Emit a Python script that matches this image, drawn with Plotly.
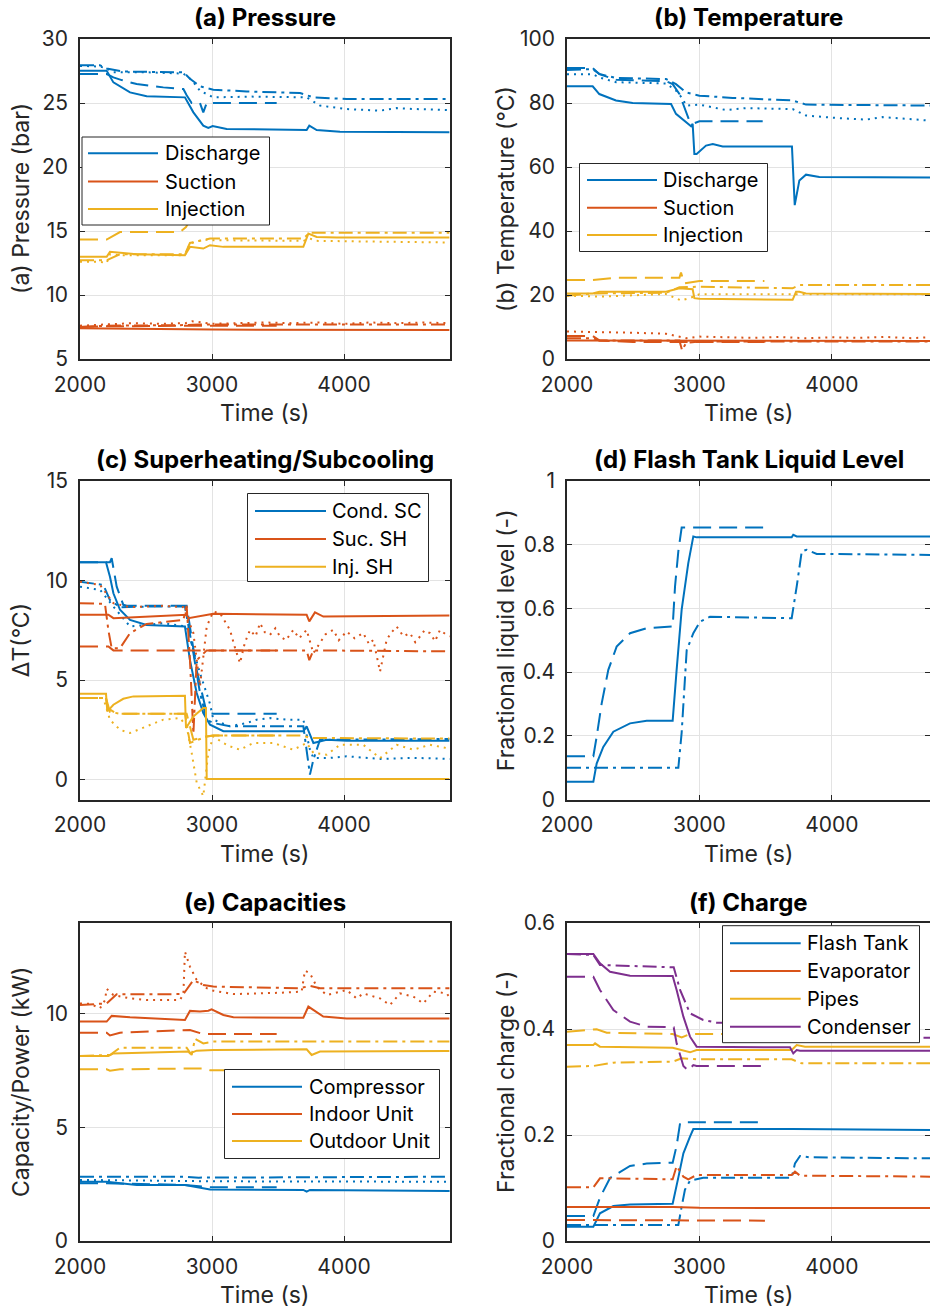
import plotly.graph_objects as go

# ---------------- colours / styles ----------------
BLUE = "#0072BD"; RED = "#D95319"; YEL = "#EDB120"; PUR = "#7E2F8E"
DASH = {"solid": "solid", "dash": "18px,8px", "dot": "2px,5px", "dd": "14px,5px,3px,5px"}

# ---------------- (a) Pressure (bar) ----------------
a_dis_solid = ([2000, 2202, 2253, 2379, 2505, 2795, 2859, 2934, 2972, 3005, 3111, 3515, 3717, 3737, 3793, 3970, 4800],
               [27.52, 27.52, 26.61, 25.83, 25.52, 25.44, 24.27, 23.23, 23.05, 23.2, 22.97, 22.89, 22.89, 23.23, 22.89, 22.76, 22.71])
a_dis_dash = ([2000, 2202, 2253, 2316, 2429, 2631, 2783, 2808, 2846, 2909, 2934, 2960, 3010, 3490],
              [27.26, 27.26, 27.0, 26.79, 26.48, 26.22, 26.09, 25.6, 25.0, 25.0, 24.27, 25.0, 25.0, 25.0])
a_dis_dot = ([2000, 2150, 2202, 2253, 2500, 2783, 2846, 2909, 3010, 3300, 3717, 3818, 4020, 4273, 4399, 4525, 4800],
             [27.9, 27.85, 27.7, 27.4, 27.4, 27.3, 26.8, 25.96, 25.44, 25.5, 25.44, 24.8, 24.53, 24.4, 24.6, 24.53, 24.45])
a_dis_dd = ([2000, 2150, 2202, 2328, 2783, 2833, 2909, 3010, 3263, 3667, 3768, 4020, 4800],
            [27.95, 27.95, 27.7, 27.46, 27.4, 26.9, 26.3, 26.04, 25.9, 25.78, 25.44, 25.31, 25.31])
a_suc_solid = ([2000, 2800, 3000, 4800], [7.4, 7.35, 7.3, 7.27])
a_suc_dash = ([2000, 2200, 2800, 3490], [7.5, 7.55, 7.6, 7.6])
a_suc_dot = ([2000, 2200, 2400, 2600, 2800, 2850, 3000, 3200, 3400, 3600, 3800, 4000, 4200, 4400, 4600, 4800],
             [7.6, 7.7, 7.8, 7.75, 7.8, 7.95, 7.75, 7.8, 7.85, 7.8, 7.85, 7.75, 7.85, 7.8, 7.85, 7.8])
a_suc_dd = ([2000, 2200, 2800, 2900, 4800], [7.5, 7.6, 7.65, 7.7, 7.7])
a_inj_solid = ([2000, 2202, 2227, 2429, 2795, 2833, 2934, 2985, 3086, 3692, 3730, 3793, 3944, 4800],
               [12.98, 12.98, 13.37, 13.19, 13.11, 13.76, 13.63, 13.89, 13.76, 13.76, 14.8, 14.54, 14.49, 14.49])
a_inj_dash = ([2000, 2202, 2303, 2758, 2803, 2850, 3490], [14.33, 14.33, 14.92, 14.92, 15.31, 16.17, 16.17])
a_inj_dot = ([2000, 2150, 2202, 2227, 2303, 2795, 2833, 2934, 3010, 3692, 3742, 3793, 4800],
             [12.59, 12.59, 12.5, 13.19, 13.11, 13.11, 14.02, 14.33, 14.28, 14.23, 14.41, 14.23, 14.1])
a_inj_dd = ([2000, 2202, 2303, 2795, 2833, 2985, 3692, 3742, 4800],
            [12.72, 12.72, 13.19, 13.19, 14.07, 14.41, 14.41, 14.87, 14.87])

# ---------------- (b) Temperature (°C) ----------------
b_dis_solid = ([2000, 2194, 2244, 2370, 2496, 2786, 2823, 2899, 2937, 2949, 2962, 2979, 3050, 3101, 3176, 3699, 3720, 3755, 3805, 3906, 4742],
               [85.2, 85.2, 82.8, 80.8, 80.0, 79.7, 76.6, 74.0, 72.7, 73.5, 64.1, 64.1, 66.7, 67.2, 66.4, 66.4, 48.1, 55.8, 57.6, 56.9, 56.7])
b_dis_dash = ([2000, 2194, 2244, 2370, 2748, 2798, 2849, 2886, 2924, 2962, 3000, 3478],
              [90.9, 90.9, 89.0, 87.3, 86.8, 85.9, 82.8, 78.7, 74.5, 73.7, 74.3, 74.3])
b_dis_dot = ([2000, 2194, 2244, 2370, 2748, 2823, 2874, 2899, 3000, 3201, 3352, 3704, 3805, 4006, 4259, 4385, 4510, 4742],
             [89.0, 89.0, 88.0, 86.5, 86.1, 83.9, 81.3, 79.2, 79.5, 77.8, 78.4, 78.1, 76.1, 75.4, 74.8, 75.6, 75.2, 74.5])
b_dis_dd = ([2000, 2194, 2244, 2370, 2748, 2823, 2899, 3000, 3251, 3704, 3805, 4742],
            [90.3, 90.6, 89.1, 87.8, 87.5, 85.9, 83.3, 82.3, 81.6, 80.8, 79.5, 79.2])
b_suc_solid = ([2000, 2800, 3000, 4742], [5.8, 5.7, 5.6, 5.6])
b_suc_dash = ([2000, 2194, 2244, 2500, 3491], [7.2, 7.2, 5.8, 5.3, 5.3])
b_suc_dot = ([2000, 2200, 2500, 2748, 2823, 2900, 3000, 3200, 3400, 3600, 3800, 4000, 4200, 4400, 4600, 4742],
             [8.6, 8.5, 8.2, 7.9, 7.3, 6.5, 7.0, 6.8, 6.6, 6.9, 6.5, 6.8, 6.6, 6.9, 6.5, 6.8])
b_suc_dd = ([2000, 2194, 2244, 2849, 2869, 2899, 3000, 4742], [6.5, 6.5, 5.8, 5.8, 2.7, 5.0, 5.5, 5.5])
b_inj_solid = ([2000, 2194, 2244, 2748, 2849, 2949, 2962, 3000, 3704, 3730, 3755, 3805, 4742],
               [20.5, 20.5, 21.0, 21.0, 22.1, 21.8, 19.0, 18.8, 18.5, 21.0, 21.0, 20.5, 20.3])
b_inj_dash = ([2000, 2194, 2370, 2849, 2861, 2886, 3000, 3491], [24.7, 24.7, 25.4, 25.4, 27.0, 23.6, 24.4, 24.4])
b_inj_dot = ([2000, 2244, 2748, 2823, 2861, 2924, 3000, 4742], [19.8, 19.5, 20.3, 19.0, 18.3, 19.0, 20.2, 20.2])
b_inj_dd = ([2000, 2194, 2748, 2849, 3000, 3704, 3755, 4742], [19.8, 20.5, 20.7, 22.4, 22.6, 22.1, 23.1, 23.1])

# ---------------- (c) Superheating / Subcooling (°C) ----------------
c_sc_solid = ([2000, 2197, 2227, 2253, 2303, 2379, 2505, 2795, 2833, 2884, 2934, 2985, 3086, 3692, 3717, 3768, 3869, 4020, 4800],
              [10.92, 10.92, 10.19, 9.36, 8.53, 8.02, 7.77, 7.69, 6.0, 4.35, 3.34, 2.76, 2.43, 2.43, 2.67, 1.84, 2.0, 1.95, 1.95])
c_sc_dash = ([2000, 2227, 2240, 2278, 2328, 2354, 2808, 2884, 2960, 3010, 3490],
             [10.92, 10.92, 11.12, 9.69, 8.78, 8.73, 8.73, 5.5, 3.34, 3.31, 3.31])
c_sc_dot = ([2000, 2152, 2253, 2379, 2505, 2631, 2808, 2909, 2985, 3010, 3136, 3263, 3338, 3439, 3566, 3692, 3742, 3768, 3894, 4020, 4273, 4525, 4803],
            [9.69, 9.53, 8.69, 7.69, 7.77, 7.86, 7.69, 5.35, 3.8, 3.01, 2.68, 2.84, 3.01, 3.09, 3.01, 3.01, 1.5, 1.09, 1.09, 1.17, 1.04, 1.09, 1.04])
c_sc_dd = ([2000, 2177, 2227, 2303, 2505, 2795, 2859, 2909, 2960, 3010, 3136, 3692, 3742, 3768, 3818, 4800],
           [9.94, 9.78, 9.02, 8.66, 8.69, 8.69, 6.35, 4.35, 3.01, 2.84, 2.68, 2.68, 0.25, 1.0, 2.0, 2.04])
c_suc_solid = ([2000, 2215, 2253, 2808, 2821, 3010, 3717, 3737, 3780, 3843, 4800],
               [8.28, 8.28, 8.11, 8.28, 8.11, 8.33, 8.28, 7.95, 8.4, 8.19, 8.24])
c_suc_dash = ([2000, 2215, 2253, 3490], [6.69, 6.69, 6.49, 6.49])
c_suc_dot = ([2000, 2152, 2253, 2379, 2631, 2783, 2859, 2909, 2960, 3010, 3061, 3100, 3136, 3175, 3212, 3250, 3288, 3330, 3364, 3400, 3439, 3480, 3515, 3560, 3616, 3660, 3717, 3768, 3818, 3860, 3919, 3960, 4020, 4080, 4146, 4190, 4222, 4273, 4323, 4360, 4399, 4450, 4500, 4540, 4576, 4610, 4651, 4690, 4727, 4770, 4803],
             [9.94, 9.78, 8.86, 8.66, 8.73, 8.66, 7.36, 4.68, 7.69, 8.44, 8.36, 7.9, 7.52, 6.6, 5.85, 6.9, 7.52, 7.2, 7.86, 7.4, 7.27, 7.6, 7.19, 7.0, 7.52, 7.1, 7.52, 6.35, 6.85, 7.3, 7.52, 7.0, 7.44, 7.1, 7.36, 6.8, 7.02, 5.43, 7.02, 7.4, 7.69, 7.2, 7.36, 6.9, 7.19, 7.5, 7.36, 6.95, 7.52, 7.3, 7.19])
c_suc_dd = ([2000, 2189, 2215, 2240, 2303, 2379, 2505, 2783, 2808, 2833, 2859, 2884, 2960, 3010, 3717, 3737, 3768, 4800],
            [8.86, 8.83, 7.5, 6.6, 6.6, 7.36, 7.82, 8.02, 8.73, 6.0, 2.3, 6.0, 6.49, 6.49, 6.49, 6.0, 6.49, 6.44])
c_inj_solid = ([2000, 2197, 2207, 2253, 2328, 2404, 2795, 2803, 2859, 2934, 2954, 2960, 4800],
               [4.31, 4.31, 3.43, 3.76, 4.06, 4.18, 4.21, 2.59, 3.17, 3.6, 3.6, 0.03, 0.03])
c_inj_dash = ([2000, 2197, 2207, 2278, 2808, 2859, 2960, 3010, 3490], [4.1, 4.1, 3.6, 3.31, 3.31, 2.0, 2.17, 2.21, 2.21])
c_inj_dot = ([2000, 2177, 2227, 2303, 2379, 2505, 2631, 2758, 2808, 2846, 2884, 2934, 2972, 3010, 3086, 3136, 3212, 3313, 3465, 3616, 3717, 3768, 3869, 3970, 4146, 4273, 4399, 4525, 4651, 4803],
             [4.1, 4.1, 3.0, 2.5, 2.34, 2.68, 3.01, 3.09, 2.68, 1.34, -0.15, -0.83, 1.34, 2.17, 1.84, 1.67, 1.5, 1.84, 1.84, 1.5, 1.84, 1.34, 1.25, 1.75, 1.75, 1.08, 1.75, 1.5, 1.75, 1.55])
c_inj_dd = ([2000, 2197, 2227, 2303, 2795, 2833, 2960, 3010, 3692, 3742, 4800],
            [4.1, 4.1, 3.4, 3.31, 3.31, 1.84, 2.17, 2.21, 2.21, 2.09, 2.06])

# ---------------- (d) Flash tank liquid level (-) ----------------
d_lvl_solid = ([2000, 2199, 2224, 2274, 2350, 2476, 2602, 2798, 2828, 2866, 2916, 2954, 2979, 3697, 3709, 3735, 4742],
               [0.056, 0.056, 0.113, 0.165, 0.213, 0.239, 0.247, 0.247, 0.407, 0.596, 0.742, 0.826, 0.823, 0.823, 0.831, 0.826, 0.826])
d_lvl_dash = ([2000, 2199, 2224, 2262, 2312, 2375, 2476, 2602, 2798, 2816, 2841, 2866, 3495],
              [0.136, 0.136, 0.197, 0.302, 0.407, 0.48, 0.522, 0.538, 0.543, 0.669, 0.78, 0.854, 0.854])
d_lvl_dd = ([2000, 2841, 2866, 2879, 2904, 2954, 3004, 3080, 3697, 3735, 3773, 3810, 3886, 4742],
            [0.0997, 0.0997, 0.21, 0.302, 0.469, 0.522, 0.558, 0.574, 0.569, 0.669, 0.779, 0.784, 0.771, 0.768])

# ---------------- (e) Capacities (kW) ----------------
e_cmp_solid = ([2000, 2202, 2429, 2795, 2985, 3692, 3717, 3742, 4803], [2.61, 2.61, 2.47, 2.47, 2.27, 2.25, 2.17, 2.25, 2.2])
e_cmp_dash = ([2000, 2202, 2795, 2985, 3490], [2.54, 2.54, 2.47, 2.37, 2.37])
e_cmp_dot = ([2000, 2500, 3000, 3500, 4000, 4803], [2.69, 2.65, 2.63, 2.62, 2.61, 2.61])
e_cmp_dd = ([2000, 2800, 2900, 4803], [2.83, 2.83, 2.79, 2.83])
e_idu_solid = ([2000, 2202, 2240, 2379, 2795, 2833, 2909, 2972, 2997, 3086, 3162, 3692, 3730, 3768, 3843, 4020, 4800],
               [9.66, 9.66, 9.91, 9.85, 9.73, 10.13, 10.1, 10.14, 10.2, 9.95, 9.85, 9.83, 10.32, 10.17, 9.88, 9.8, 9.8])
e_idu_dash = ([2000, 2202, 2227, 2303, 2833, 2934, 3010, 3490], [9.17, 9.17, 9.05, 9.17, 9.29, 9.11, 9.11, 9.11])
e_idu_dot = ([2000, 2076, 2152, 2189, 2202, 2253, 2379, 2505, 2758, 2783, 2795, 2833, 2884, 2960, 3010, 3162, 3515, 3679, 3704, 3742, 3793, 3869, 3919, 4020, 4096, 4146, 4273, 4348, 4424, 4525, 4601, 4677, 4778, 4803],
             [10.46, 10.44, 10.25, 10.6, 11.1, 10.83, 10.68, 10.61, 10.61, 10.87, 12.74, 12.08, 11.49, 11.13, 11.02, 10.87, 10.93, 10.98, 11.9, 11.79, 11.2, 10.83, 10.9, 11.05, 10.68, 10.9, 10.68, 10.39, 10.9, 10.76, 10.46, 10.98, 10.9, 10.7])
e_idu_dd = ([2000, 2202, 2278, 2505, 2783, 2859, 2934, 3010, 3667, 3742, 3818, 4800],
            [10.39, 10.46, 10.86, 10.86, 10.87, 11.49, 11.27, 11.2, 11.13, 11.23, 11.13, 11.13])
e_odu_solid = ([2000, 2215, 2253, 2505, 2821, 2833, 2884, 3010, 3717, 3755, 3818, 4800],
               [8.15, 8.15, 8.26, 8.31, 8.34, 8.26, 8.38, 8.41, 8.44, 8.19, 8.34, 8.37])
e_odu_dash = ([2000, 2202, 2227, 2303, 2934, 2985, 3490], [7.56, 7.56, 7.5, 7.56, 7.6, 7.52, 7.52])
e_odu_dd = ([2000, 2227, 2303, 2505, 2808, 2846, 2871, 2934, 3010, 4800],
            [8.15, 8.19, 8.51, 8.51, 8.51, 8.19, 8.9, 8.7, 8.78, 8.78])

# ---------------- (f) Charge (-) ----------------
f_ft_solid = ([2000, 2199, 2249, 2350, 2476, 2798, 2841, 2879, 2929, 2954, 3709, 4742],
              [0.027, 0.027, 0.0522, 0.066, 0.069, 0.0704, 0.12, 0.1654, 0.1969, 0.2113, 0.2113, 0.2094])
f_ft_dash = ([2000, 2199, 2249, 2325, 2476, 2602, 2798, 2828, 2854, 2904, 3495],
             [0.0472, 0.0472, 0.0818, 0.119, 0.1415, 0.146, 0.1478, 0.18, 0.222, 0.2239, 0.2239])
f_ft_dd = ([2000, 2841, 2866, 2891, 2929, 3029, 3697, 3722, 3760, 3835, 4742],
           [0.0302, 0.0302, 0.065, 0.097, 0.1138, 0.1195, 0.1195, 0.1465, 0.1604, 0.1579, 0.156])
f_ev_solid = ([2000, 2800, 3000, 3700, 3750, 4742], [0.0642, 0.064, 0.0625, 0.0625, 0.062, 0.0622])
f_ev_dash = ([2000, 2800, 3495], [0.0396, 0.0384, 0.0384])
f_ev_dd = ([2000, 2199, 2249, 2350, 2798, 2828, 2879, 2916, 2979, 3697, 3722, 3760, 4742],
           [0.1012, 0.1012, 0.1182, 0.1182, 0.1164, 0.1415, 0.1214, 0.1164, 0.1245, 0.1245, 0.1308, 0.1233, 0.1214])
f_pp_solid = ([2000, 2199, 2212, 2249, 2798, 2929, 2979, 3697, 3735, 3798, 4742],
              [0.37, 0.37, 0.373, 0.3667, 0.3648, 0.356, 0.3604, 0.3604, 0.3698, 0.3667, 0.3667])
f_pp_dash = ([2000, 2224, 2300, 2798, 2866, 2929, 3495], [0.395, 0.3994, 0.3931, 0.3906, 0.3843, 0.3906, 0.3906])
f_pp_dd = ([2000, 2199, 2350, 2798, 2866, 2979, 3697, 3773, 4742],
           [0.3289, 0.3302, 0.3365, 0.3384, 0.3446, 0.3428, 0.3428, 0.3352, 0.3352])
f_cd_solid = ([2000, 2199, 2249, 2325, 2476, 2798, 2828, 2879, 2929, 2979, 3684, 3709, 3735, 3760, 4742],
              [0.5415, 0.5415, 0.524, 0.508, 0.5006, 0.4999, 0.4736, 0.4233, 0.3855, 0.3667, 0.3654, 0.354, 0.3604, 0.3591, 0.3591])
f_cd_dash = ([2000, 2199, 2249, 2350, 2476, 2602, 2806, 2828, 2879, 2916, 2954, 2979, 3495],
             [0.4987, 0.4987, 0.4736, 0.4358, 0.4139, 0.4044, 0.4032, 0.373, 0.3302, 0.3214, 0.332, 0.3302, 0.3302])
f_cd_dd = ([2000, 2199, 2249, 2806, 2854, 2929, 3029, 3130, 3697, 3750, 4742],
           [0.5415, 0.5396, 0.5208, 0.5164, 0.4736, 0.4296, 0.417, 0.412, 0.41, 0.3836, 0.3836])

# ---------------- text ----------------
TITLES = ["(a) Pressure", "(b) Temperature", "(c) Superheating/Subcooling",
          "(d) Flash Tank Liquid Level", "(e) Capacities", "(f) Charge"]
YLABELS = ["(a) Pressure (bar)", "(b) Temperature (°C)", "ΔT(°C)",
           "Fractional liquid level (-)", "Capacity/Power (kW)", "Fractional charge (-)"]
XLABEL = "Time (s)"
X_TICKS = [2000, 3000, 4000]
Y_TICKS = [[5, 10, 15, 20, 25, 30], [0, 20, 40, 60, 80, 100], [0, 5, 10, 15],
           [0, 0.2, 0.4, 0.6, 0.8, 1], [0, 5, 10], [0, 0.2, 0.4, 0.6]]
Y_TICKTEXT = [None, None, None, ["0", "0.2", "0.4", "0.6", "0.8", "1"], None, ["0", "0.2", "0.4", "0.6"]]
Y_RANGES = [[5, 30], [0, 100], [-1, 15], [0, 1], [0, 14], [0, 0.6]]
LEG_A = ["Discharge", "Suction", "Injection"]
LEG_C = ["Cond. SC", "Suc. SH", "Inj. SH"]
LEG_E = ["Compressor", "Indoor Unit", "Outdoor Unit"]
LEG_F = ["Flash Tank", "Evaporator", "Pipes", "Condenser"]

# ---------------- layout geometry (pixels) ----------------
W, H = 930, 1310
FONT = "Inter"
INK = "#262626"
XL = (80, 449.6); XR = (567, 930)
ROWS = [(39, 359), (481, 799.5), (923, 1241)]
XRANGE_L = [2000, 4800]
XRANGE_R = [2000, 2000 + (XR[1] - XR[0]) / 0.1324]
TICK_SIZE, LEG_SIZE, LAB_SIZE, TTL_SIZE = 21, 20, 23, 24


def fx(px):
    return px / W


def fy(py):
    return 1 - py / H


series = [
    (1, [(a_dis_solid, BLUE, "solid"), (a_dis_dash, BLUE, "dash"), (a_dis_dot, BLUE, "dot"), (a_dis_dd, BLUE, "dd"),
         (a_suc_solid, RED, "solid"), (a_suc_dash, RED, "dash"), (a_suc_dot, RED, "dot"), (a_suc_dd, RED, "dd"),
         (a_inj_solid, YEL, "solid"), (a_inj_dash, YEL, "dash"), (a_inj_dot, YEL, "dot"), (a_inj_dd, YEL, "dd")]),
    (2, [(b_dis_solid, BLUE, "solid"), (b_dis_dash, BLUE, "dash"), (b_dis_dot, BLUE, "dot"), (b_dis_dd, BLUE, "dd"),
         (b_suc_solid, RED, "solid"), (b_suc_dash, RED, "dash"), (b_suc_dot, RED, "dot"), (b_suc_dd, RED, "dd"),
         (b_inj_solid, YEL, "solid"), (b_inj_dash, YEL, "dash"), (b_inj_dot, YEL, "dot"), (b_inj_dd, YEL, "dd")]),
    (3, [(c_sc_solid, BLUE, "solid"), (c_sc_dash, BLUE, "dash"), (c_sc_dot, BLUE, "dot"), (c_sc_dd, BLUE, "dd"),
         (c_suc_solid, RED, "solid"), (c_suc_dash, RED, "dash"), (c_suc_dot, RED, "dot"), (c_suc_dd, RED, "dd"),
         (c_inj_solid, YEL, "solid"), (c_inj_dash, YEL, "dash"), (c_inj_dot, YEL, "dot"), (c_inj_dd, YEL, "dd")]),
    (4, [(d_lvl_solid, BLUE, "solid"), (d_lvl_dash, BLUE, "dash"), (d_lvl_dd, BLUE, "dd")]),
    (5, [(e_cmp_solid, BLUE, "solid"), (e_cmp_dash, BLUE, "dash"), (e_cmp_dot, BLUE, "dot"), (e_cmp_dd, BLUE, "dd"),
         (e_idu_solid, RED, "solid"), (e_idu_dash, RED, "dash"), (e_idu_dot, RED, "dot"), (e_idu_dd, RED, "dd"),
         (e_odu_solid, YEL, "solid"), (e_odu_dash, YEL, "dash"), (e_odu_dd, YEL, "dd")]),
    (6, [(f_ft_solid, BLUE, "solid"), (f_ft_dash, BLUE, "dash"), (f_ft_dd, BLUE, "dd"),
         (f_ev_solid, RED, "solid"), (f_ev_dash, RED, "dash"), (f_ev_dd, RED, "dd"),
         (f_pp_solid, YEL, "solid"), (f_pp_dash, YEL, "dash"), (f_pp_dd, YEL, "dd"),
         (f_cd_solid, PUR, "solid"), (f_cd_dash, PUR, "dash"), (f_cd_dd, PUR, "dd")]),
]

fig = go.Figure()
for idx, lst in series:
    sfx = "" if idx == 1 else str(idx)
    for (t, v), col, sty in lst:
        fig.add_trace(go.Scatter(x=t, y=v, mode="lines", xaxis="x" + sfx, yaxis="y" + sfx,
                                 line=dict(color=col, width=2, dash=DASH[sty]),
                                 showlegend=False, hoverinfo="skip"))

layout = dict(width=W, height=H, margin=dict(l=0, r=0, t=0, b=0, pad=0, autoexpand=False),
              paper_bgcolor="white", plot_bgcolor="white",
              font=dict(family=FONT, size=TICK_SIZE, color=INK), showlegend=False)
annotations = []
shapes = []
for i in range(6):
    n = i + 1
    sfx = "" if n == 1 else str(n)
    left = (i % 2 == 0)
    xd = XL if left else XR
    yd = ROWS[i // 2]
    axcommon = dict(showline=True, linecolor=INK, linewidth=1.5, mirror="ticks",
                    ticks="inside", ticklen=5, tickwidth=1.2, tickcolor=INK,
                    showgrid=True, gridcolor="#e3e3e3", gridwidth=1, zeroline=False, automargin=False,
                    tickfont=dict(family=FONT, size=TICK_SIZE, color=INK))
    layout["xaxis" + sfx] = dict(axcommon, domain=[fx(xd[0]), fx(xd[1])],
                                 range=XRANGE_L if left else XRANGE_R,
                                 tickvals=X_TICKS, anchor="y" + sfx, ticklabelstandoff=6)
    yax = dict(axcommon, domain=[fy(yd[1]), fy(yd[0])], range=Y_RANGES[i],
               tickvals=Y_TICKS[i], anchor="x" + sfx, ticklabelstandoff=6)
    if Y_TICKTEXT[i] is not None:
        yax["ticktext"] = Y_TICKTEXT[i]
    layout["yaxis" + sfx] = yax
    cx = (xd[0] + xd[1]) / 2
    annotations.append(dict(text="<b>" + TITLES[i] + "</b>", x=fx(cx), y=fy(yd[0] - 21), xref="paper", yref="paper",
                            xanchor="center", yanchor="middle", showarrow=False,
                            font=dict(family=FONT, size=TTL_SIZE, color="black")))
    annotations.append(dict(text=XLABEL, x=fx(cx), y=fy(yd[1] + 54), xref="paper", yref="paper",
                            xanchor="center", yanchor="middle", showarrow=False,
                            font=dict(family=FONT, size=LAB_SIZE, color=INK)))
    ylx = 21 if left else 506
    annotations.append(dict(text=YLABELS[i], x=fx(ylx), y=fy((yd[0] + yd[1]) / 2), xref="paper", yref="paper",
                            xanchor="center", yanchor="middle", showarrow=False, textangle=-90,
                            font=dict(family=FONT, size=LAB_SIZE, color=INK)))


def add_legend(box, names, colors, line_x, ys, text_x):
    shapes.append(dict(type="rect", xref="paper", yref="paper", x0=fx(box[0]), x1=fx(box[1]),
                       y0=fy(box[3]), y1=fy(box[2]), line=dict(color=INK, width=1), fillcolor="white",
                       layer="above"))
    for nm, col, yy in zip(names, colors, ys):
        shapes.append(dict(type="line", xref="paper", yref="paper", x0=fx(line_x[0]), x1=fx(line_x[1]),
                           y0=fy(yy), y1=fy(yy), line=dict(color=col, width=2), layer="above"))
        annotations.append(dict(text=nm, x=fx(text_x), y=fy(yy), xref="paper", yref="paper",
                                xanchor="left", yanchor="middle", showarrow=False,
                                font=dict(family=FONT, size=LEG_SIZE, color="black")))


add_legend((82, 269.5, 137, 225), LEG_A, [BLUE, RED, YEL], (88, 158), [153.3, 181.5, 209], 163)
add_legend((579.5, 767.5, 163.5, 251.5), LEG_A, [BLUE, RED, YEL], (587, 657), [180, 207.7, 235], 661)
add_legend((247.5, 428.5, 493.5, 581.5), LEG_C, [BLUE, RED, YEL], (255, 326), [511, 539, 566.7], 330)
add_legend((224.5, 439.5, 1069.5, 1158.5), LEG_E, [BLUE, RED, YEL], (232, 302), [1086.7, 1114, 1141], 306.5)
add_legend((722.5, 919.5, 925.7, 1042.7), LEG_F, [BLUE, RED, YEL, PUR], (730, 800.7), [943.3, 971, 998.7, 1026.7], 805)

layout["annotations"] = annotations
layout["shapes"] = shapes
fig.update_layout(**layout)
fig.write_html("out.html")
